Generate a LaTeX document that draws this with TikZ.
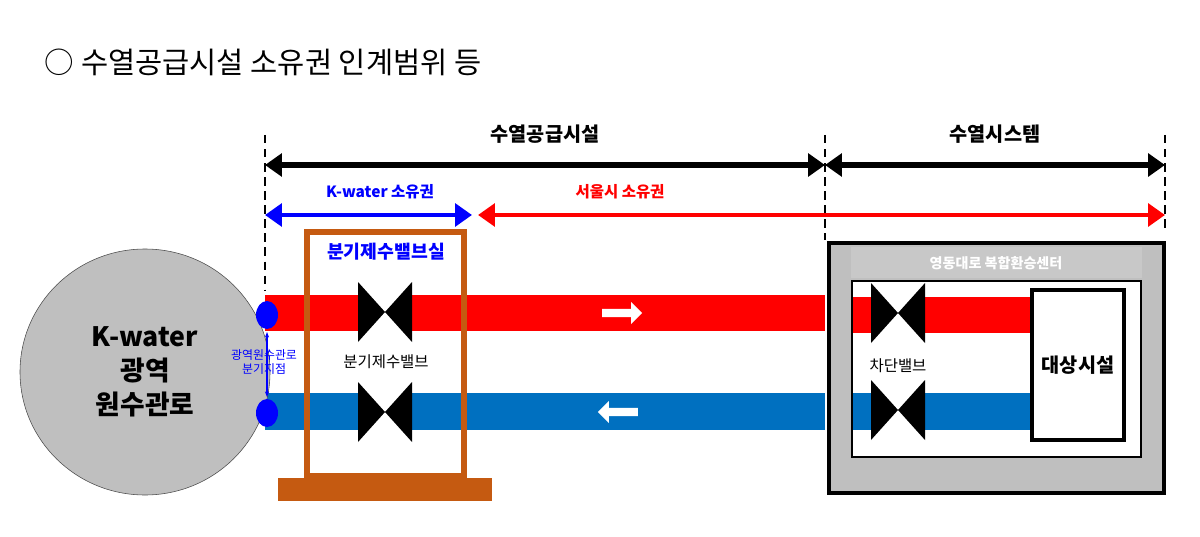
\documentclass[tikz,border=0pt]{standalone}
\usepackage{fontspec}
\setmainfont{Noto Sans CJK KR}
\usetikzlibrary{arrows.meta,shapes.arrows,shapes.geometric}
\definecolor{hotred}{RGB}{255,0,0}
\definecolor{coolblue}{RGB}{0,112,192}
\definecolor{rust}{RGB}{197,90,17}
\definecolor{boxgray}{RGB}{191,191,191}
\definecolor{stripgray}{RGB}{200,200,200}
\tikzset{
    span-arrow/.style = {line width=4pt, {Triangle[length=12pt,width=16pt]}-{Triangle[length=12pt,width=16pt]}},
    dash-mark/.style = {line width=1.6pt, dash pattern=on 6pt off 4pt},
    valve/.style = {fill=black, draw=none},
    pipe-label/.style = {font=\fontsize{11}{13}\selectfont},
}
\newcommand{\valvemark}[2]{% center x, y
    \fill[white] (#1-27,#2-30) rectangle (#1+27,#2+30);
    \fill[valve] (#1-27,#2-30) -- (#1,#2) -- (#1-27,#2+30) -- cycle;
    \fill[valve] (#1+27,#2-30) -- (#1,#2) -- (#1+27,#2+30) -- cycle;}
\begin{document}
\begin{tikzpicture}[x=0.025cm, y=-0.025cm]
\useasboundingbox (0,0) rectangle (1200,537);
% title
\node[anchor=west, font=\fontsize{21}{24}\selectfont] (title) at (40,62) {○ 수열공급시설 소유권 인계범위 등};

% pipes
\fill[hotred] (265,295) rectangle (825,331);
\fill[coolblue] (265,393) rectangle (825,430);

% source main
\node[ellipse, draw=black!70, fill=boxgray, minimum width=250*0.025cm, minimum height=246*0.025cm, inner sep=0pt, align=center, font=\fontsize{19}{24}\selectfont\bfseries] (main) at (145,372) {K-water\\광역\\원수관로};
\fill[blue] (267,315) ellipse (11 and 14);
\fill[blue] (267,413) ellipse (11 and 14);
\coordinate (tapA) at (267,332);
\coordinate (tapB) at (267,397);
\draw[blue, thick, {Stealth[length=4pt]}-{Stealth[length=4pt]}] (tapA) -- (tapB);
\node[inner sep=0pt, align=center, text=blue, font=\fontsize{8.5}{9.5}\selectfont] (tap) at (264,362) {광역원수관로\\분기지점};

% valve room
\draw[rust, line width=4pt] (307,232) rectangle (464,476);
\fill[rust] (278,478) rectangle (492,501);
\node[fill=white, inner sep=1pt, text=blue, font=\fontsize{13}{15}\selectfont\bfseries] (room) at (386,252) {분기제수밸브실};
\valvemark{385}{312}
\valvemark{385}{412}
\node[pipe-label] (gate) at (386,362) {분기제수밸브};

% flow arrows
\node[single arrow, fill=white, minimum height=40*0.025cm, minimum width=22*0.025cm, single arrow head extend=2pt, inner sep=1pt] (flowA) at (620,313) {};
\node[single arrow, shape border rotate=180, fill=white, minimum height=40*0.025cm, minimum width=22*0.025cm, single arrow head extend=2pt, inner sep=1pt] (flowB) at (620,412) {};

% extents
\draw[dash-mark] (265,135) -- (265,290);
\draw[dash-mark] (825,135) -- (825,240);
\draw[dash-mark] (1165,135) -- (1165,228);
\coordinate (s0) at (265,165);
\coordinate (s1) at (825,165);
\coordinate (s2) at (1165,165);
\draw[span-arrow] (s0) -- (s1);
\draw[span-arrow] (s1) -- (s2);
\node[font=\fontsize{14}{16}\selectfont\bfseries] (supply) at (545,134) {수열공급시설};
\node[font=\fontsize{14}{16}\selectfont\bfseries] (system) at (995,134) {수열시스템};
\coordinate (o0) at (265,215);
\coordinate (o1) at (472,215);
\coordinate (o2) at (478,215);
\coordinate (o3) at (1165,215);
\draw[span-arrow, blue, line width=3pt] (o0) -- (o1);
\draw[span-arrow, hotred, line width=3pt] (o2) -- (o3);
\node[text=blue, font=\fontsize{11}{13}\selectfont\bfseries] (kown) at (380,192) {K-water 소유권};
\node[text=hotred, font=\fontsize{11}{13}\selectfont\bfseries] (sown) at (620,192) {서울시 소유권};

% transfer center
\draw[line width=2.5pt, fill=boxgray] (829,243) rectangle (1164,493);
\fill[stripgray] (851,247) rectangle (1142,278);
\node[text=white, font=\fontsize{10}{12}\selectfont\bfseries] (center) at (996,263) {영동대로 복합환승센터};
\draw[line width=1.8pt, fill=white] (852,281) rectangle (1141,457);
\fill[hotred] (853,297) rectangle (1032,333);
\fill[coolblue] (853,393) rectangle (1032,430);
\valvemark{898}{313}
\valvemark{898}{410}
\node[pipe-label] (cutoff) at (898,366) {차단밸브};
\node[draw, line width=2.5pt, fill=white, minimum width=92*0.025cm, minimum height=150*0.025cm, font=\fontsize{14}{16}\selectfont\bfseries] (target) at (1078,365) {대상시설};
\end{tikzpicture}
\end{document}
